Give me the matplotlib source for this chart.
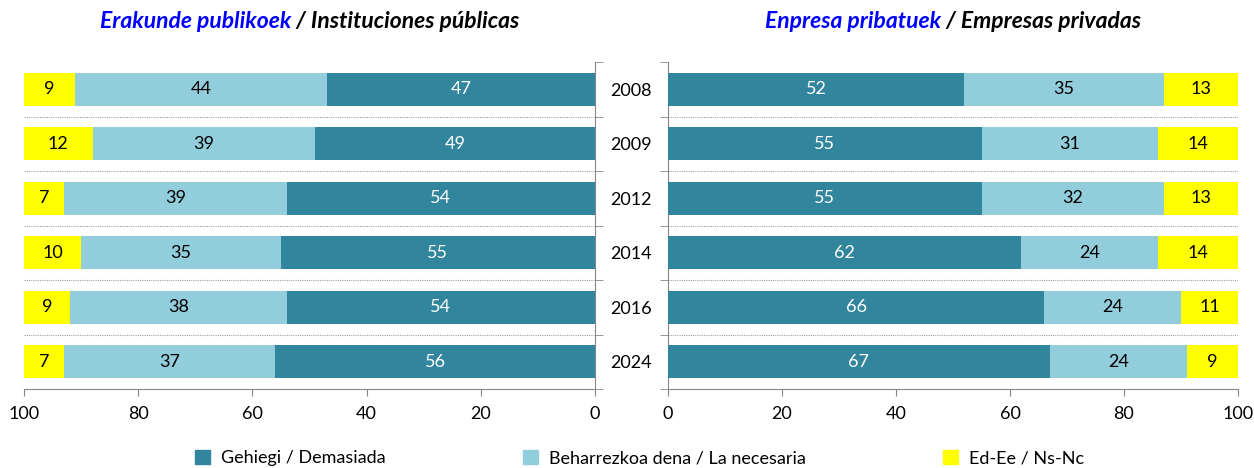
import matplotlib
matplotlib.use("Agg")
import matplotlib.pyplot as plt
from matplotlib.patches import Patch
import numpy as np

years = ["2008", "2009", "2012", "2014", "2016", "2024"]
pub_demasiada = [47, 49, 54, 55, 54, 56]
pub_necesaria = [44, 39, 39, 35, 38, 37]
pub_nsnc = [9, 12, 7, 10, 9, 7]
priv_demasiada = [52, 55, 55, 62, 66, 67]
priv_necesaria = [35, 31, 32, 24, 24, 24]
priv_nsnc = [13, 14, 13, 14, 11, 9]
legend_labels = ["Gehiegi / Demasiada", "Beharrezkoa dena / La necesaria", "Ed-Ee / Ns-Nc"]

C_DARK = "#31859C"
C_LIGHT = "#92CDDC"
C_YEL = "#FFFF00"
C_AX = "#868686"
FS = 13

plt.rcParams['font.family'] = ['Lato', 'DejaVu Sans']

fig = plt.figure(figsize=(12.54, 4.68), dpi=100)
axL = fig.add_axes([24/1254, 1-389/468, 571/1254, 327/468])
axR = fig.add_axes([668/1254, 1-389/468, 570/1254, 327/468])

y = np.arange(len(years))
h = 0.6

def draw(ax, d, n, s):
    d = np.array(d); n = np.array(n); s = np.array(s)
    b1 = ax.barh(y, d, height=h, color=C_DARK, zorder=3)
    b2 = ax.barh(y, n, left=d, height=h, color=C_LIGHT, zorder=3)
    b3 = ax.barh(y, s, left=d+n, height=h, color=C_YEL, zorder=3)
    ax.bar_label(b1, label_type='center', color='white', fontsize=FS)
    ax.bar_label(b2, label_type='center', color='black', fontsize=FS)
    ax.bar_label(b3, label_type='center', color='black', fontsize=FS)
    ax.set_ylim(len(years)-0.5, -0.5)
    ax.set_xticks([0, 20, 40, 60, 80, 100])
    ax.tick_params(axis='x', colors=C_AX, labelcolor='black', labelsize=FS, length=5, pad=7)
    ax.set_yticks(np.arange(-0.5, len(years)), minor=True)
    ax.set_yticks(y)
    ax.tick_params(axis='y', which='minor', colors=C_AX, length=6)
    ax.tick_params(axis='y', which='major', length=0)
    for b in np.arange(0.5, len(years)-0.5):
        ax.axhline(b, color='#A0A0A0', lw=0.8, ls=(0, (1, 1)), zorder=1)
    for sp in ax.spines.values():
        sp.set_color(C_AX)
    ax.spines['top'].set_visible(False)

draw(axL, pub_demasiada, pub_necesaria, pub_nsnc)
axL.set_xlim(100, 0)
axL.spines['left'].set_visible(False)
axL.yaxis.tick_right()
axL.set_yticklabels([])

draw(axR, priv_demasiada, priv_necesaria, priv_nsnc)
axR.set_xlim(0, 100)
axR.spines['right'].set_visible(False)
axR.set_yticklabels(years, fontsize=FS)
axR.tick_params(axis='y', which='major', pad=12)

def title(ax, blue, black):
    cx = (ax.get_position().x0 + ax.get_position().x1) / 2
    t1 = fig.text(0, 0, blue, color='#0000FF', fontsize=16.5, fontweight='bold', fontstyle='italic', va='center')
    t2 = fig.text(0, 0, " / " + black, color='black', fontsize=16.5, fontweight='bold', fontstyle='italic', va='center')
    fig.canvas.draw()
    r = fig.canvas.get_renderer()
    w1 = t1.get_window_extent(r).width / fig.bbox.width
    w2 = t2.get_window_extent(r).width / fig.bbox.width
    x0 = cx - (w1 + w2) / 2
    yy = 1 - 22/468
    t1.set_position((x0, yy))
    t2.set_position((x0 + w1, yy))

title(axL, "Erakunde publikoek", "Instituciones públicas")
title(axR, "Enpresa pribatuek", "Empresas privadas")

handles = [Patch(color=C_DARK), Patch(color=C_LIGHT), Patch(color=C_YEL)]
fig.legend(handles, legend_labels, loc='center', bbox_to_anchor=(0.51, 1-458/468),
           ncol=3, frameon=False, fontsize=FS, columnspacing=7.6,
           handlelength=0.85, handleheight=0.85, handletextpad=0.6)

fig.savefig("out.png", dpi=100)
